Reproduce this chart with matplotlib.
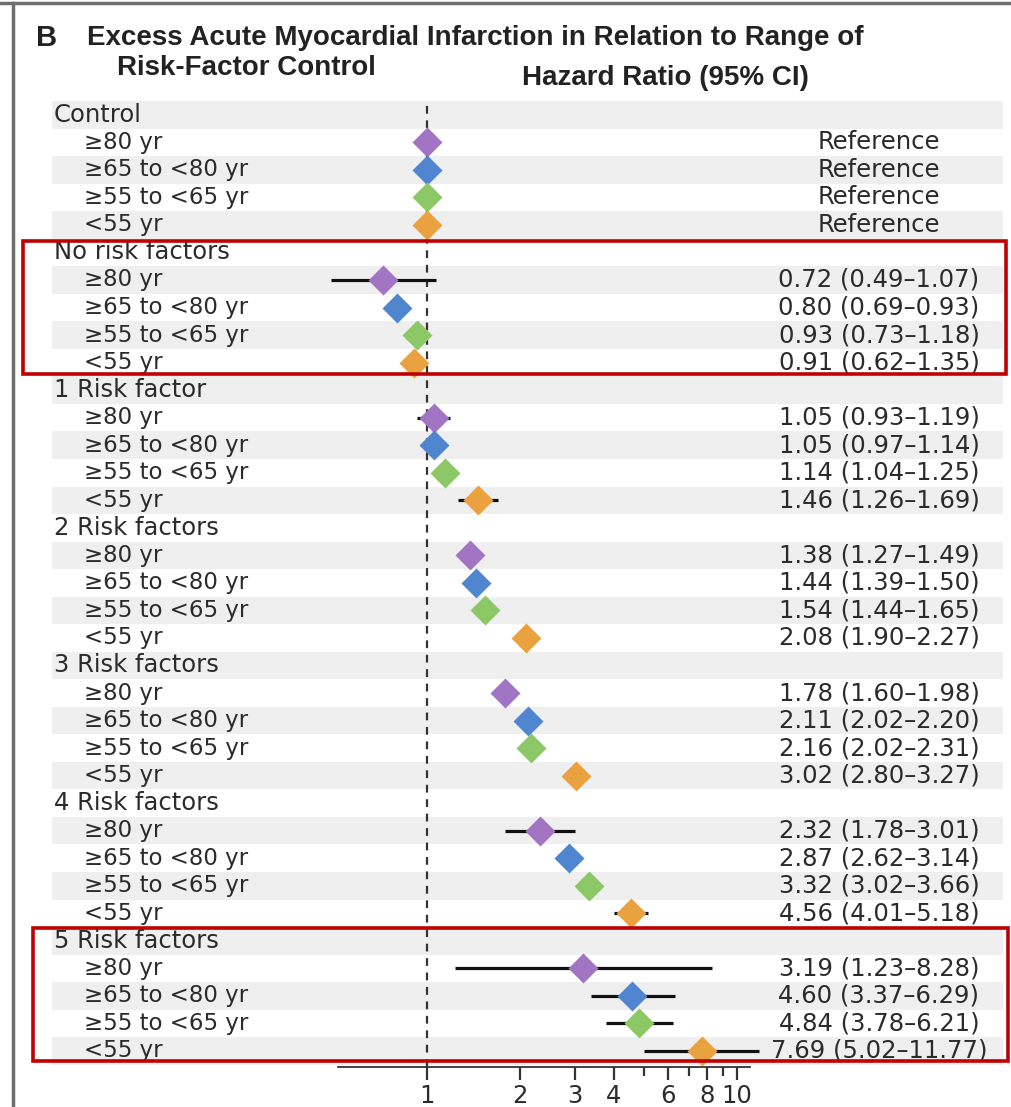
import matplotlib
matplotlib.use("Agg")
import matplotlib.pyplot as plt
import matplotlib.transforms as mtransforms
from matplotlib.patches import Rectangle
from matplotlib.lines import Line2D
from matplotlib.ticker import FixedLocator, NullFormatter

# ---------------- data ----------------
groups = ["Control", "No risk factors", "1 Risk factor", "2 Risk factors",
          "3 Risk factors", "4 Risk factors", "5 Risk factors"]
age_labels = ["\u226580 yr", "\u226565 to <80 yr", "\u226555 to <65 yr", "<55 yr"]
age_colors = ["#a174c4", "#4f86cf", "#8cc866", "#eaa13f"]

hr = [
    [1.00, 1.00, 1.00, 1.00],
    [0.72, 0.80, 0.93, 0.91],
    [1.05, 1.05, 1.14, 1.46],
    [1.38, 1.44, 1.54, 2.08],
    [1.78, 2.11, 2.16, 3.02],
    [2.32, 2.87, 3.32, 4.56],
    [3.19, 4.60, 4.84, 7.69],
]
ci_low = [
    [None, None, None, None],
    [0.49, 0.69, 0.73, 0.62],
    [0.93, 0.97, 1.04, 1.26],
    [1.27, 1.39, 1.44, 1.90],
    [1.60, 2.02, 2.02, 2.80],
    [1.78, 2.62, 3.02, 4.01],
    [1.23, 3.37, 3.78, 5.02],
]
ci_high = [
    [None, None, None, None],
    [1.07, 0.93, 1.18, 1.35],
    [1.19, 1.14, 1.25, 1.69],
    [1.49, 1.50, 1.65, 2.27],
    [1.98, 2.20, 2.31, 3.27],
    [3.01, 3.14, 3.66, 5.18],
    [8.28, 6.29, 6.21, 11.77],
]
# whether the CI whisker is drawn in the original figure
ci_drawn = [
    [False, False, False, False],
    [True, False, False, False],
    [True, False, False, True],
    [False, False, False, False],
    [False, False, False, False],
    [True, False, False, True],
    [True, True, True, True],
]
xticks_major = [1, 2, 3, 4, 6, 8, 10]
xticks_minor = [5, 7, 9]

# ---------------- layout ----------------
W, H = 1011, 1107
fig = plt.figure(figsize=(W / 100, H / 100), dpi=100)

def fx(px):
    return px / W

def fy(py):
    return 1 - py / H

ax_left, ax_right = 52, 1003
ax_top, ax_bottom = 101, 1067
ax = fig.add_axes([fx(ax_left), fy(ax_bottom), fx(ax_right) - fx(ax_left),
                   fy(ax_top) - fy(ax_bottom)])
ax.set_xscale("log")
# mapping: x=1 at px 427, 310 px per decade
ax.set_xlim(10 ** ((ax_left - 427) / 310), 10 ** ((ax_right - 427) / 310))
n_rows = len(groups) * 5
ax.set_ylim(n_rows - 1 + (ax_bottom - 1051) / 27.53, -0.5)

label_font = ["DejaVu Sans"]
fs = 16.5
fs_head = 17.5
fs_right = 17.5
txt_color = "#2b2b2b"

blend = mtransforms.blended_transform_factory(ax.transAxes, ax.transData)
def axfrac(px):
    return (px - ax_left) / (ax_right - ax_left)

row = 0
for gi, g in enumerate(groups):
    if row % 2 == 0:
        ax.axhspan(row - 0.5, row + 0.5, color="#efefef", lw=0, zorder=0)
    ax.text(axfrac(54), row, g, transform=blend, ha="left", va="center",
            fontsize=fs_head, family=label_font, color=txt_color)
    row += 1
    for ai in range(4):
        if row % 2 == 0:
            ax.axhspan(row - 0.5, row + 0.5, color="#efefef", lw=0, zorder=0)
        ax.text(axfrac(84), row, age_labels[ai], transform=blend, ha="left",
                va="center", fontsize=fs, family=label_font, color=txt_color)
        v = hr[gi][ai]
        lo, hi = ci_low[gi][ai], ci_high[gi][ai]
        if lo is not None:
            if ci_drawn[gi][ai]:
                ax.plot([lo, hi], [row, row], color="#111111", lw=2.3,
                        solid_capstyle="butt", zorder=3, clip_on=False)
            rtxt = f"{v:.2f} ({lo:.2f}\u2013{hi:.2f})"
        else:
            rtxt = "Reference"
        ax.plot([v], [row], marker="D", ms=15, color=age_colors[ai],
                mec="none", zorder=4, clip_on=False)
        ax.text(axfrac(879), row, rtxt, transform=blend, ha="center",
                va="center", fontsize=fs_right, family=label_font,
                color=txt_color)
        row += 1

# reference dashed line at 1
ax.axvline(1, color="#333333", lw=1.6, ls=(0, (3.5, 3)), zorder=2)

# axes styling
for s in ["top", "right", "left"]:
    ax.spines[s].set_visible(False)
ax.spines["bottom"].set_bounds(0.516, 11.0)
ax.spines["bottom"].set_color("#333333")
ax.spines["bottom"].set_linewidth(1.3)
ax.yaxis.set_visible(False)
ax.xaxis.set_major_locator(FixedLocator(xticks_major))
ax.xaxis.set_minor_locator(FixedLocator(xticks_minor))
ax.set_xticklabels([str(t) for t in xticks_major])
ax.xaxis.set_minor_formatter(NullFormatter())
ax.tick_params(axis="x", which="major", length=9, width=1.6, color="#333333",
               labelsize=fs_right, labelcolor=txt_color, pad=3)
ax.tick_params(axis="x", which="minor", length=6.5, width=1.6, color="#333333")
for lab in ax.get_xticklabels():
    lab.set_family(label_font)

# titles
title_font = ["Liberation Sans", "DejaVu Sans"]
tfs = 20
fig.text(fx(36), fy(38), "B", fontsize=21, fontweight="bold",
         family=title_font, color="#222222", ha="left", va="center")
fig.text(fx(87), fy(38),
         "Excess Acute Myocardial Infarction in Relation to Range of",
         fontsize=tfs, fontweight="bold", family=title_font, color="#222222",
         ha="left", va="center")
fig.text(fx(117), fy(68), "Risk-Factor Control", fontsize=tfs,
         fontweight="bold", family=title_font, color="#222222", ha="left",
         va="center")
fig.text(fx(665), fy(78), "Hazard Ratio (95% CI)", fontsize=tfs,
         fontweight="bold", family=title_font, color="#222222", ha="center",
         va="center")

# frame lines (page border)
fig.add_artist(Line2D([0, 1], [fy(3), fy(3)], transform=fig.transFigure,
                      color="#6e6e6e", lw=2.5))
fig.add_artist(Line2D([fx(13), fx(13)], [fy(3), 0], transform=fig.transFigure,
                      color="#6e6e6e", lw=2.5))

# red highlight boxes
for (x0, y0, x1, y1) in [(23, 241, 1006, 374), (33, 928, 1008, 1061)]:
    fig.add_artist(Rectangle((fx(x0), fy(y1)), fx(x1) - fx(x0),
                             fy(y0) - fy(y1), transform=fig.transFigure,
                             fill=False, edgecolor="#c00000", lw=2.6,
                             zorder=10))

fig.savefig("out.png", dpi=100)
